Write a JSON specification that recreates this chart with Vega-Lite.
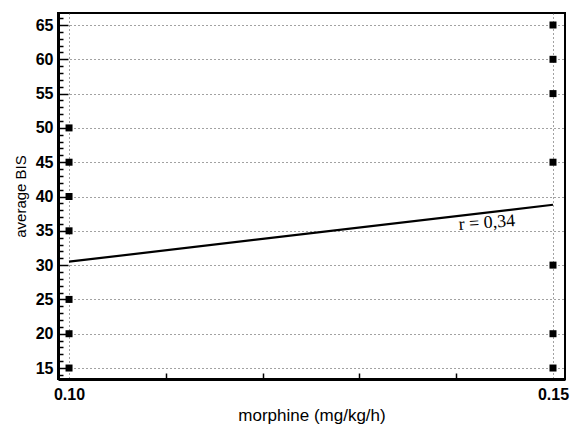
{
  "$schema": "https://vega.github.io/schema/vega-lite/v6.json",
  "width": 507,
  "height": 366,
  "autosize": {"type": "none"},
  "padding": {"left": 58, "top": 13, "right": 6, "bottom": 49},
  "background": "white",
  "config": {
    "view": {"stroke": "black", "strokeWidth": 2},
    "font": "Liberation Sans",
    "axis": {
      "labelFont": "Liberation Sans",
      "titleFont": "Liberation Sans",
      "labelColor": "black",
      "titleColor": "black",
      "domainColor": "black",
      "domainWidth": 3,
      "tickColor": "black",
      "gridColor": "#444",
      "gridDash": [1, 3],
      "gridWidth": 1,
      "labelOverlap": false
    }
  },
  "resolve": {"axis": {"x": "independent", "y": "independent"}},
  "datasets": {
    "pts": [
      {"morphine": 0.10, "bis": 15},
      {"morphine": 0.10, "bis": 20},
      {"morphine": 0.10, "bis": 25},
      {"morphine": 0.10, "bis": 35},
      {"morphine": 0.10, "bis": 40},
      {"morphine": 0.10, "bis": 45},
      {"morphine": 0.10, "bis": 50},
      {"morphine": 0.15, "bis": 15},
      {"morphine": 0.15, "bis": 20},
      {"morphine": 0.15, "bis": 30},
      {"morphine": 0.15, "bis": 45},
      {"morphine": 0.15, "bis": 55},
      {"morphine": 0.15, "bis": 60},
      {"morphine": 0.15, "bis": 65}
    ],
    "fit": [
      {"morphine": 0.10, "bis": 30.5},
      {"morphine": 0.15, "bis": 38.8}
    ],
    "note": [
      {"morphine": 0.1432, "bis": 35.4, "label": "r = 0,34"}
    ]
  },
  "layer": [
    {
      "data": {"name": "pts"},
      "mark": {"type": "square", "size": 49, "color": "black", "opacity": 1, "filled": true},
      "encoding": {
        "x": {
          "field": "morphine",
          "type": "quantitative",
          "scale": {"domain": [0.09886, 0.15124], "nice": false, "zero": false},
          "axis": {
            "orient": "bottom",
            "offset": 0,
            "title": "morphine (mg/kg/h)",
            "titleFontSize": 17,
            "titleFontWeight": "normal",
            "titlePadding": 5,
            "values": [0.10, 0.15],
            "format": ".2f",
            "labelFontSize": 16,
            "labelFontWeight": "bold",
            "labelPadding": 7,
            "labelFlush": false,
            "ticks": false,
            "grid": true
          }
        },
        "y": {
          "field": "bis",
          "type": "quantitative",
          "scale": {"domain": [13.4, 66.75], "nice": false, "zero": false},
          "axis": {
            "orient": "left",
            "offset": 0,
            "title": "average BIS",
            "titleFontSize": 15,
            "titleFontWeight": "normal",
            "titlePadding": 7,
            "values": [15, 20, 25, 30, 35, 40, 45, 50, 55, 60, 65],
            "labelFontSize": 16,
            "labelFontWeight": "bold",
            "labelPadding": 5,
            "ticks": false,
            "grid": true
          }
        }
      }
    },
    {
      "data": {"name": "fit"},
      "mark": {"type": "line", "color": "black", "strokeWidth": 2.2},
      "encoding": {
        "x": {
          "field": "morphine",
          "type": "quantitative",
          "axis": {
            "orient": "bottom",
            "offset": 0,
            "title": null,
            "values": [0.11, 0.12, 0.13, 0.14],
            "labels": false,
            "domain": false,
            "grid": false,
            "tickSize": -6,
            "tickWidth": 1.5
          }
        },
        "y": {
          "field": "bis",
          "type": "quantitative",
          "axis": {
            "orient": "left",
            "offset": 0,
            "title": null,
            "values": [14,16,17,18,19,21,22,23,24,26,27,28,29,31,32,33,34,36,37,38,39,41,42,43,44,46,47,48,49,51,52,53,54,56,57,58,59,61,62,63,64,66],
            "labels": false,
            "domain": false,
            "grid": false,
            "tickSize": -5,
            "tickWidth": 1.5
          }
        }
      }
    },
    {
      "data": {"name": "pts"},
      "mark": {"type": "point", "opacity": 0},
      "encoding": {
        "x": {"field": "morphine", "type": "quantitative", "axis": null},
        "y": {
          "field": "bis",
          "type": "quantitative",
          "axis": {
            "orient": "left",
            "offset": 0,
            "title": null,
            "values": [15, 20, 25, 30, 35, 40, 45, 50, 55, 60, 65],
            "labels": false,
            "domain": false,
            "grid": false,
            "tickSize": -10,
            "tickWidth": 1.5
          }
        }
      }
    },
    {
      "data": {"name": "note"},
      "mark": {"type": "text", "font": "Liberation Serif", "fontSize": 18, "color": "black", "align": "center", "baseline": "alphabetic", "angle": -4},
      "encoding": {
        "x": {"field": "morphine", "type": "quantitative", "axis": null},
        "y": {"field": "bis", "type": "quantitative", "axis": null},
        "text": {"field": "label"}
      }
    }
  ]
}
